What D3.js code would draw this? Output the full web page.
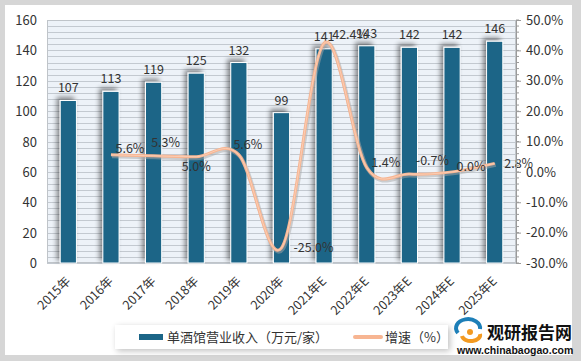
<!DOCTYPE html>
<html><head><meta charset="utf-8">
<script src="https://cdn.jsdelivr.net/npm/d3@7/dist/d3.min.js"></script>
<style>body{margin:0;background:#fff}svg{display:block}</style>
</head><body>
<script>
const categories = ["2015年","2016年","2017年","2018年","2019年","2020年","2021年E","2022年E","2023年E","2024年E","2025年E"];
const revenue = [107,113,119,125,132,99,141,143,142,142,146];
const growth = [null,5.6,5.3,5.0,5.6,-25.0,42.4,1.4,-0.7,0.0,2.8];
const growthLabels = ["","5.6%","5.3%","5.0%","5.6%","-25.0%","42.4%","1.4%","-0.7%","0.0%","2.8%"];
const leftTicks = [0,20,40,60,80,100,120,140,160];
const rightTicks = [-30,-20,-10,0,10,20,30,40,50];
const legendNames = ["单酒馆营业收入（万元/家）","增速（%）"];

const W=581,H=361;
const L=47,R=516,T=20,B=263;
const font='"Noto Sans CJK SC","Noto Sans",sans-serif';
const barColor="#1b6587", lineColor="#f7b592";

const svg=d3.select("body").append("svg").attr("width",W).attr("height",H);
const defs=svg.append("defs");
const f=defs.append("filter").attr("id","sh").attr("x","-50%").attr("y","-20%").attr("width","200%").attr("height","140%");
f.append("feGaussianBlur").attr("in","SourceAlpha").attr("stdDeviation",2.5);
f.append("feOffset").attr("dx",-3).attr("dy",-3).attr("result","o");
f.append("feComponentTransfer").append("feFuncA").attr("type","linear").attr("slope",0.45);
const m=f.append("feMerge");m.append("feMergeNode");m.append("feMergeNode").attr("in","SourceGraphic");
const f2=defs.append("filter").attr("id","lsh").attr("x","-10%").attr("y","-40%").attr("width","120%").attr("height","200%");
f2.append("feGaussianBlur").attr("in","SourceAlpha").attr("stdDeviation",3);
f2.append("feOffset").attr("dx",2).attr("dy",2);
f2.append("feComponentTransfer").append("feFuncA").attr("type","linear").attr("slope",0.25);
const m2=f2.append("feMerge");m2.append("feMergeNode");m2.append("feMergeNode").attr("in","SourceGraphic");

// frame
svg.append("rect").attr("width",W).attr("height",H).attr("fill","#d6d6d6");
svg.append("rect").attr("x",5).attr("y",5).attr("width",567).attr("height",350).attr("fill","#fff");

const x=d3.scaleBand().domain(categories).range([L,R]).padding(0);
const yL=d3.scaleLinear().domain([0,160]).range([B,T]);
const yR=d3.scaleLinear().domain([-30,50]).range([B,T]);
const cx=i=>x(categories[i])+x.bandwidth()/2;

// plot background + grid
svg.append("rect").attr("x",L).attr("y",T).attr("width",R-L).attr("height",B-T).attr("fill","#edf2f8");
svg.append("g").selectAll("line").data(d3.range(-30,50.01,2)).join("line")
  .attr("x1",L).attr("x2",R).attr("y1",d=>Math.round(yR(d))+0.5).attr("y2",d=>Math.round(yR(d))+0.5)
  .attr("stroke","#c3c9d0").attr("stroke-width",1);
svg.append("rect").attr("x",L+0.5).attr("y",T+0.5).attr("width",R-L-1).attr("height",B-T-1).attr("fill","none").attr("stroke","#bfc4c9");

// bars
const bw=x.bandwidth()*0.38;
svg.append("g").selectAll("rect").data(revenue).join("rect")
  .attr("x",(d,i)=>cx(i)-bw/2)
  .attr("y",d=>yL(d)).attr("width",bw).attr("height",d=>B-yL(d))
  .attr("fill",barColor).attr("stroke","#fff").attr("stroke-width",1).attr("filter","url(#sh)");

// bar labels
svg.append("g").selectAll("text").data(revenue).join("text")
  .attr("x",(d,i)=>cx(i)).attr("y",d=>yL(d)-8)
  .attr("text-anchor","middle").attr("font-family",font).attr("font-size",12.5).attr("fill","#333").text(d=>d);

// line
const pts=growth.map((g,i)=>g==null?null:[cx(i),yR(g)]).filter(p=>p);
const line=d3.line().curve(d3.curveCatmullRom.alpha(0));
svg.append("path").attr("d",line(pts)).attr("fill","none").attr("stroke","#a7a7a7").attr("stroke-width",4).attr("opacity",0.5).attr("transform","translate(1,1.5)");
svg.append("path").attr("d",line(pts)).attr("fill","none").attr("stroke",lineColor).attr("stroke-width",3);
svg.append("path").attr("d",line(pts)).attr("fill","none").attr("stroke","#fbd3bd").attr("stroke-width",0.8);

// growth labels (label centre offsets from point)
const off=[[0,0],[19,-6],[12,-13],[0,10],[9,-10],[32,0],[26,-9],[19,-5],[23,-14],[19,-5],[24,0]];
const lg=svg.append("g");
growth.forEach((g,i)=>{ if(g==null) return;
  lg.append("text").attr("x",cx(i)+off[i][0]).attr("y",yR(g)+off[i][1]+4.5)
   .attr("text-anchor","middle").attr("font-family",font).attr("font-size",12.5).attr("fill","#333").text(growthLabels[i]);
});

// left axis labels
svg.append("g").selectAll("text").data(leftTicks).join("text")
  .attr("x",37).attr("y",d=>yL(d)+5).attr("text-anchor","end")
  .attr("font-family",font).attr("font-size",13).attr("fill","#333").text(d=>d);
// right axis
const ra=svg.append("g").attr("transform",`translate(${R},0)`)
  .call(d3.axisRight(yR).tickValues(rightTicks).tickSize(5).tickFormat(d=>d.toFixed(1)+"%"));
ra.select(".domain").attr("stroke","#9a9a9a");
ra.selectAll(".tick line").attr("stroke","#9a9a9a");
ra.selectAll("text").attr("font-family",font).attr("font-size",13).attr("fill","#333").attr("x",10);
ra.append("g").selectAll("line").data(d3.range(-30,50.01,2)).join("line")
  .attr("x1",0).attr("x2",3).attr("y1",d=>yR(d)).attr("y2",d=>yR(d)).attr("stroke","#9a9a9a");

// x labels
svg.append("g").selectAll("text").data(categories).join("text")
  .attr("transform",(d,i)=>`translate(${cx(i)+3},${B+19}) rotate(-45)`)
  .attr("text-anchor","end").attr("font-family",font).attr("font-size",12.5).attr("fill","#333").text(d=>d);

// legend
const lgd=svg.append("g");
lgd.append("rect").attr("x",115).attr("y",325).attr("width",333).attr("height",24).attr("fill","#fff").attr("filter","url(#lsh)");
lgd.append("rect").attr("x",139).attr("y",334).attr("width",24).attr("height",6).attr("fill",barColor);
lgd.append("text").attr("x",167).attr("y",342).attr("font-family",font).attr("font-size",13).attr("fill","#333").text(legendNames[0]);
lgd.append("line").attr("x1",355).attr("x2",381).attr("y1",337).attr("y2",337).attr("stroke",lineColor).attr("stroke-width",4).attr("stroke-linecap","round");
lgd.append("text").attr("x",385).attr("y",342).attr("font-family",font).attr("font-size",13).attr("fill","#333").text(legendNames[1]);

// watermark logo
const wm=svg.append("g");
wm.append("path").attr("d","M458,333 a12,9 0 1,1 22,-4").attr("fill","none").attr("stroke","#1d7fb8").attr("stroke-width",4);
wm.append("path").attr("d","M462,336 a9,6 0 1,0 18,-2").attr("fill","none").attr("stroke","#f39a21").attr("stroke-width",4);
wm.append("circle").attr("cx",470).attr("cy",332).attr("r",3).attr("fill","#f39a21");
wm.append("text").attr("x",487).attr("y",339).attr("font-family",font).attr("font-weight","bold").attr("font-size",17).attr("fill","#111").text("观研报告网");
wm.append("text").attr("x",457).attr("y",354).attr("font-family","Liberation Sans, sans-serif").attr("font-weight","bold").attr("font-size",10.5).attr("fill","#111").text("www.chinabaogao.com");
</script>
</body></html>
